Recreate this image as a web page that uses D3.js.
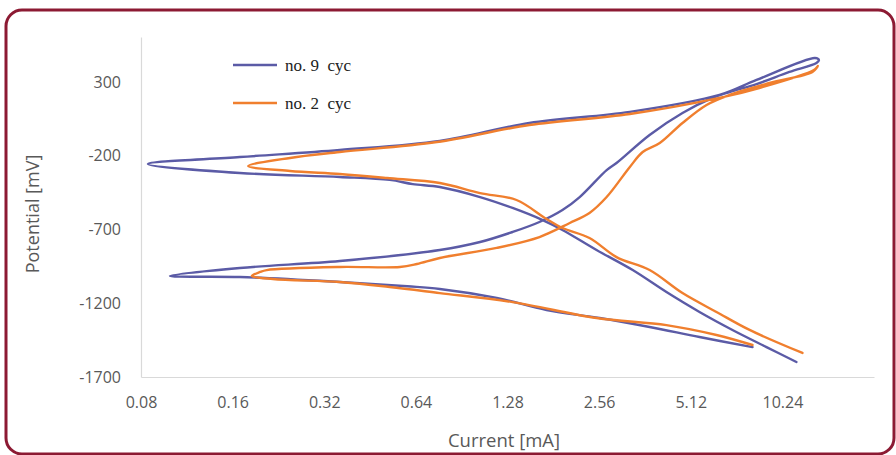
<!DOCTYPE html>
<html>
<head>
<meta charset="utf-8">
<script src="https://cdn.jsdelivr.net/npm/d3@7"></script>
<style>
  body { margin: 0; background: #fff; }
  svg { display: block; }
</style>
</head>
<body>
<div id="chart"></div>
<script>
const width = 896
const height = 455

// tick labels
const xTicks = [0.08, 0.16, 0.32, 0.64, 1.28, 2.56, 5.12, 10.24]
const yTicks = [300, -200, -700, -1200, -1700]

// no. 9 cyc  (current mA, potential mV), in sweep order
const cyc9Current = [8.17, 5.47, 3.75, 2.57, 1.72, 1.18, 0.767, 0.60, 0.36, 0.169, 0.0996,
    0.169, 0.36, 0.767, 1.04, 1.33, 1.63, 1.94, 2.21, 2.71, 2.92, 3.75, 4.81, 6.04, 6.87, 8.42, 10.8, 13.25, 13.5,
    13.1, 8.42, 6.36, 3.23, 1.51, 0.767, 0.36, 0.169, 0.0843,
    0.169, 0.36, 0.525, 0.625, 0.767, 1.04, 1.33, 1.67, 1.94, 2.51, 3.30, 4.26, 5.47, 7.02, 9.08, 11.39]
const cyc9Potential = [-1497, -1429, -1361, -1300, -1246, -1164, -1103, -1085, -1056, -1022, -1015,
    -961, -914, -839, -785, -717, -649, -568, -480, -297, -249, -59, 90, 192, 232, 286, 368, 429, 449,
    463, 314, 212, 97, 22, -100, -161, -209, -256,
    -317, -344, -364, -392, -412, -480, -554, -636, -703, -839, -975, -1124, -1259, -1381, -1497, -1598]

// no. 2 cyc
const cyc2Current = [8.17, 6.22, 4.26, 2.51, 1.33, 0.767, 0.525, 0.36, 0.217, 0.185,
    0.197, 0.207, 0.36, 0.567, 0.645, 0.767, 1.18, 1.63, 2.05, 2.38, 2.71, 3.23, 3.56, 4.05, 4.81, 5.77, 6.87, 9.29, 12.86, 13.4,
    13.0, 8.6, 6.36, 3.23, 1.51, 0.75, 0.36, 0.247, 0.180,
    0.247, 0.36, 0.514, 0.767, 1.04, 1.37, 1.72, 1.94, 2.38, 2.92, 3.75, 4.81, 6.22, 7.99, 11.92]
const cyc2Potential = [-1483, -1415, -1348, -1300, -1192, -1131, -1090, -1056, -1036, -1015,
    -988, -975, -954, -954, -934, -893, -825, -751, -656, -588, -480, -276, -175, -114, 22, 144, 212, 293, 368, 408,
    381, 259, 192, 83, 8, -107, -175, -215, -270,
    -303, -324, -351, -385, -453, -500, -629, -690, -758, -887, -975, -1131, -1259, -1381, -1537]

const seriesNames = ["no. 9  cyc", "no. 2  cyc"]
const seriesColors = ["#5b5ba6", "#f07f2e"]

const svg = d3.select("div#chart").append("svg").attr("width", width).attr("height", height)

// frame
svg.append("rect")
    .attr("x", 6).attr("y", 10).attr("width", 888).attr("height", 444).attr("rx", 16)
    .attr("fill", "#fff").attr("stroke", "#8c1a33").attr("stroke-width", 3)

const x = d3.scaleLog().base(2).domain([0.08, 20.48]).range([141, 874])
const y = d3.scaleLinear().domain([-1700, 605]).range([377, 37])

const xAxis = d3.axisBottom(x).tickValues(xTicks).tickFormat(d => String(d))
    .tickSizeInner(0).tickSizeOuter(0).tickPadding(20)
const yAxis = d3.axisLeft(y).tickValues(yTicks).tickFormat(d => String(d))
    .tickSizeInner(0).tickSizeOuter(0).tickPadding(20)

const xAxisGroup = svg.append("g").attr("transform", `translate(0, ${y(-1700)})`).call(xAxis)
const yAxisGroup = svg.append("g").attr("transform", `translate(${x(0.08)}, 0)`).call(yAxis)

svg.selectAll(".domain").attr("stroke", "#d9d9d9").attr("stroke-width", 1.2)
svg.selectAll(".tick text")
    .attr("fill", "#595959")
    .style("font-family", "'Open Sans', sans-serif")
    .style("font-size", "16px")

// axis titles
svg.append("text")
    .attr("transform", "translate(39, 214) rotate(-90)")
    .attr("text-anchor", "middle")
    .attr("fill", "#595959")
    .style("font-family", "'Open Sans', sans-serif")
    .style("font-size", "18px")
    .text("Potential [mV]")

svg.append("text")
    .attr("x", 504).attr("y", 447)
    .attr("text-anchor", "middle")
    .attr("fill", "#595959")
    .style("font-family", "'Open Sans', sans-serif")
    .style("font-size", "18.5px")
    .text("Current [mA]")

// curves
const line = d3.line()
    .x(d => x(d[0]))
    .y(d => y(d[1]))
    .curve(d3.curveCatmullRom.alpha(0.5))

const series = [
    d3.zip(cyc9Current, cyc9Potential),
    d3.zip(cyc2Current, cyc2Potential),
]

svg.append("g").selectAll("path").data(series).enter()
    .append("path")
    .attr("d", line)
    .attr("fill", "none")
    .attr("stroke", (d, i) => seriesColors[i])
    .attr("stroke-width", 2.4)
    .attr("stroke-linejoin", "round")
    .attr("stroke-linecap", "round")

// legend
const legend = svg.append("g").selectAll("g").data(seriesNames).enter()
    .append("g")
    .attr("transform", (d, i) => `translate(233, ${65 + i * 38})`)

legend.append("line")
    .attr("x1", 0).attr("x2", 44).attr("y1", 0).attr("y2", 0)
    .attr("stroke", (d, i) => seriesColors[i])
    .attr("stroke-width", 2.4)

legend.append("text")
    .attr("x", 52).attr("y", 6)
    .attr("fill", "#222")
    .style("font-family", "'Liberation Serif', serif")
    .style("font-size", "17px")
    .style("white-space", "pre")
    .text(d => d)
</script>
</body>
</html>
